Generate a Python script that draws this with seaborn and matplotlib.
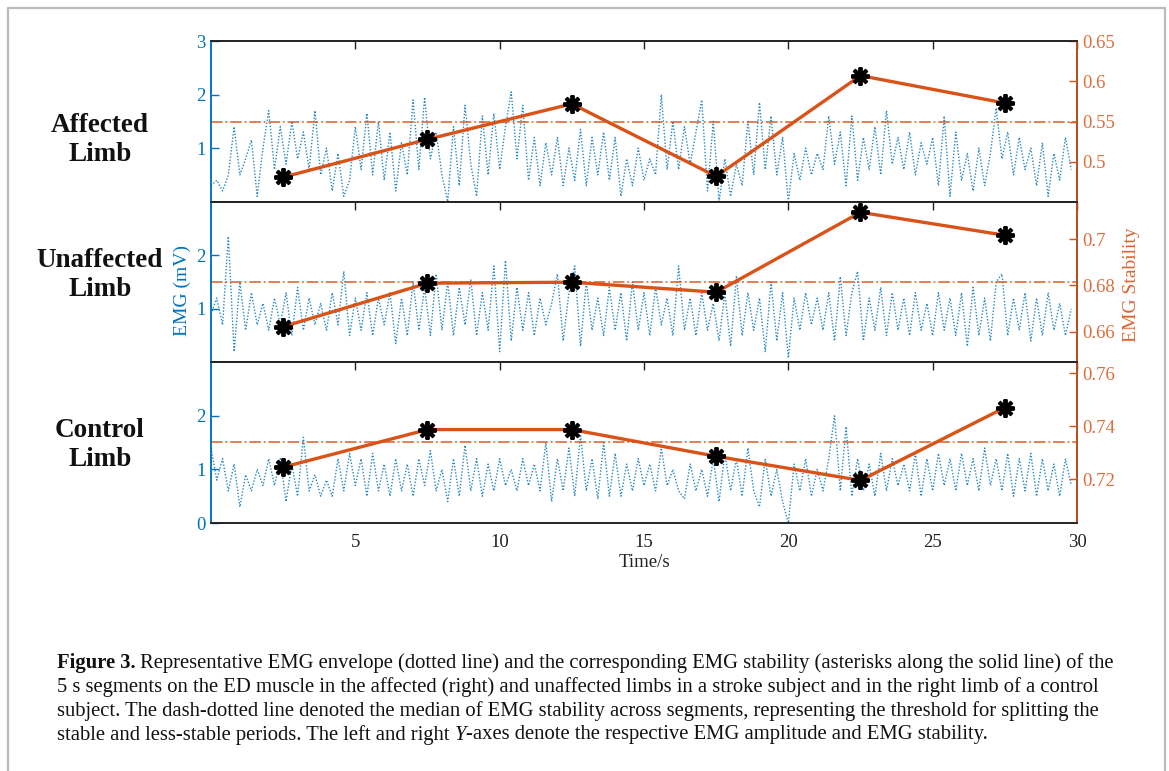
import numpy as np
import pandas as pd
import matplotlib
matplotlib.use("Agg")
import matplotlib.pyplot as plt
from matplotlib.lines import Line2D
import seaborn as sns

sns.set_theme(style="white")
plt.rcParams['font.family'] = ['Liberation Serif', 'DejaVu Serif']

BLUE = '#0072BD'
ORANGE = '#D95319'

# EMG envelope, one value every 0.2 s
emg_affected = [
    0.3, 0.4, 0.2, 0.5, 1.4, 0.5, 0.8, 1.15, 0.1, 1.0,
    1.7, 0.6, 1.4, 0.7, 1.5, 0.8, 1.3, 0.6, 1.7, 0.5,
    1.0, 0.2, 0.9, 0.1, 0.4, 1.4, 0.6, 1.65, 0.5, 1.5,
    0.4, 1.3, 0.2, 1.1, 0.5, 1.9, 0.6, 1.95, 0.8, 1.3,
    0.5, 0.0, 1.4, 0.3, 1.8, 0.7, 0.1, 1.6, 0.5, 1.65,
    0.6, 1.4, 2.05, 0.8, 1.8, 0.4, 1.2, 0.3, 1.1, 0.5,
    1.2, 0.3, 1.0, 0.4, 1.35, 0.3, 1.2, 0.5, 1.3, 0.4,
    1.2, 0.1, 0.8, 0.3, 1.0, 0.4, 0.8, 0.5, 2.0, 0.6,
    1.5, 0.6, 1.4, 0.7, 1.3, 1.9, 0.2, 1.5, 0.0, 0.8,
    0.1, 0.7, 0.3, 1.5, 0.5, 1.85, 0.6, 1.6, 0.5, 1.2,
    0.0, 0.9, 0.4, 1.0, 0.5, 0.9, 0.6, 1.6, 0.7, 1.3,
    0.3, 1.6, 0.4, 1.2, 0.6, 1.4, 0.5, 1.7, 0.7, 1.2,
    0.6, 1.3, 0.5, 1.1, 0.7, 1.2, 0.3, 1.6, 0.1, 1.3,
    0.4, 0.9, 0.2, 1.0, 0.3, 0.9, 1.75, 0.8, 1.3, 0.5,
    1.2, 0.6, 1.0, 0.3, 1.1, 0.1, 0.9, 0.4, 1.2, 0.6,
]
emg_unaffected = [
    0.9, 1.2, 0.7, 2.35, 0.2, 1.5, 0.6, 1.3, 0.7, 1.1,
    0.6, 1.2, 0.7, 1.3, 0.5, 1.4, 0.6, 1.2, 0.7, 1.1,
    0.6, 1.3, 0.7, 1.7, 0.5, 1.2, 0.6, 1.3, 0.5, 1.2,
    0.7, 1.3, 0.35, 1.2, 0.5, 1.5, 0.6, 1.4, 0.5, 1.65,
    0.6, 1.5, 0.5, 1.4, 0.7, 1.55, 0.5, 1.3, 0.6, 1.8,
    0.2, 1.9, 0.4, 1.4, 0.6, 1.3, 0.5, 1.2, 0.7, 1.1,
    1.65, 0.4, 1.3, 1.8, 0.3, 1.5, 0.6, 1.2, 0.5, 1.4,
    0.6, 1.3, 0.4, 1.5, 0.6, 1.3, 0.5, 1.4, 0.7, 1.2,
    0.5, 1.8, 0.6, 1.2, 0.5, 1.3, 0.6, 1.1, 0.4, 1.3,
    0.3, 1.6, 0.5, 1.3, 0.6, 1.2, 0.2, 1.5, 0.4, 1.3,
    0.08, 1.2, 0.6, 1.3, 0.7, 1.2, 0.6, 1.3, 0.4, 1.6,
    0.5, 1.3, 1.7, 0.4, 1.2, 0.6, 1.4, 0.5, 1.3, 0.6,
    1.2, 0.5, 1.3, 0.6, 1.1, 0.5, 1.3, 0.6, 1.2, 0.5,
    1.3, 0.3, 1.4, 0.5, 1.2, 0.4, 1.5, 1.65, 0.5, 1.2,
    0.6, 1.3, 0.4, 1.2, 0.5, 1.3, 0.6, 1.1, 0.5, 1.0,
]
emg_control = [
    1.4, 0.8, 1.2, 0.6, 1.1, 0.3, 0.9, 0.6, 1.0, 0.7,
    1.2, 0.7, 1.2, 0.4, 1.1, 0.5, 1.6, 0.6, 0.9, 0.5,
    0.8, 0.5, 1.2, 0.6, 1.3, 0.7, 1.2, 0.5, 1.3, 0.6,
    1.1, 0.5, 1.2, 0.6, 1.1, 0.5, 1.2, 0.7, 1.35, 0.6,
    1.0, 0.4, 1.2, 0.5, 1.45, 0.6, 1.2, 0.5, 1.1, 0.6,
    1.2, 0.7, 1.0, 0.6, 1.2, 0.7, 1.1, 0.6, 1.5, 0.4,
    1.2, 0.6, 1.4, 0.5, 1.65, 0.6, 1.2, 0.45, 1.5, 0.5,
    1.3, 0.5, 1.1, 0.6, 1.2, 0.7, 1.1, 0.6, 1.4, 0.7,
    1.0, 0.6, 0.45, 1.1, 0.6, 1.0, 0.5, 1.2, 0.4, 1.3,
    0.6, 1.2, 0.5, 1.4, 0.6, 0.3, 1.2, 0.5, 1.0, 0.4,
    0.0, 1.1, 0.6, 1.2, 0.5, 1.0, 0.6, 1.2, 2.0, 0.6,
    1.8, 0.5, 1.2, 0.6, 1.1, 0.5, 1.3, 0.6, 1.2, 0.7,
    1.1, 0.6, 1.3, 0.5, 1.2, 0.6, 1.3, 0.7, 1.2, 0.6,
    1.3, 0.7, 1.2, 0.6, 1.4, 0.7, 1.2, 0.6, 1.3, 0.5,
    1.2, 0.6, 1.3, 0.5, 1.2, 0.6, 1.1, 0.5, 1.2, 0.7,
]
time_s = np.arange(len(emg_affected)) * 0.2

# EMG stability of the 5 s segments
seg_centre = [2.5, 7.5, 12.5, 17.5, 22.5, 27.5]
stab_affected = [0.481, 0.528, 0.572, 0.482, 0.607, 0.573]
stab_unaffected = [0.6622, 0.681, 0.6814, 0.6771, 0.7116, 0.7017]
stab_control = [0.7246, 0.7388, 0.7388, 0.7287, 0.7196, 0.7471]
median_stab = [0.55, 0.6816, 0.734]

panel_names = ['Affected\nLimb', 'Unaffected\nLimb', 'Control\nLimb']
name_y_px = [140, 275, 445]
left_ticks = [[1, 2, 3], [1, 2], [0, 1, 2]]
right_ticks = [[0.5, 0.55, 0.6, 0.65], [0.66, 0.68, 0.7], [0.72, 0.74, 0.76]]
right_ticklabels = [['0.5', '0.55', '0.6', '0.65'], ['0.66', '0.68', '0.7'], ['0.72', '0.74', '0.76']]
right_lims = [(0.4506, 0.65), (0.6468, 0.7162), (0.7035, 0.7642)]
time_ticks = [5, 10, 15, 20, 25, 30]

emg_all = [emg_affected, emg_unaffected, emg_control]
stab_all = [stab_affected, stab_unaffected, stab_control]

W, H = 1169, 771
fig = plt.figure(figsize=(W / 100, H / 100), dpi=100)

left, right = 211 / W, 1077 / W
top_px, bot_px = 41, 523
ph = (bot_px - top_px) / 3

for i in range(3):
    y0 = 1 - (top_px + ph * (i + 1)) / H
    ax = fig.add_axes([left, y0, right - left, ph / H])
    df = pd.DataFrame({'t': time_s, 'emg': emg_all[i]})
    sns.lineplot(data=df, x='t', y='emg', ax=ax, color=BLUE, linestyle=(0, (1, 1.3)),
                 linewidth=1.0, alpha=0.85)
    ax.set_xlim(0, 30)
    ax.set_ylim(0, 3)
    ax.set_yticks(left_ticks[i])
    ax.set_xticks(time_ticks)
    ax.set_xlabel('')
    ax.set_ylabel('')
    ax.tick_params(axis='x', direction='in', top=True, length=6, width=1,
                   colors='#222222', labelsize=13.5, pad=8)
    ax.tick_params(axis='y', direction='in', length=6, width=1, colors=BLUE,
                   labelsize=13.5, pad=4)
    if i < 2:
        ax.set_xticklabels([])
    for s in ['top', 'bottom']:
        ax.spines[s].set_color('#222222')
        ax.spines[s].set_linewidth(1.1)
    ax.spines['left'].set_color(BLUE)
    ax.spines['left'].set_linewidth(1.1)

    ax2 = ax.twinx()
    ax2.axhline(median_stab[i], color=ORANGE, alpha=0.8, linestyle='-.', linewidth=1.3)
    sdf = pd.DataFrame({'t': seg_centre, 's': stab_all[i]})
    sns.lineplot(data=sdf, x='t', y='s', ax=ax2, color=ORANGE, linewidth=2.4,
                 marker=(8, 2, 0), markersize=13, markeredgecolor='black',
                 markeredgewidth=2.8, markerfacecolor='black')
    ax2.set_ylim(*right_lims[i])
    ax2.set_yticks(right_ticks[i])
    ax2.set_yticklabels(right_ticklabels[i])
    ax2.set_xlabel('')
    ax2.set_ylabel('')
    ax2.tick_params(axis='y', direction='in', length=6, width=1, colors=ORANGE,
                    labelsize=13.5, pad=4)
    for lab in ax2.get_yticklabels():
        lab.set_alpha(0.85)
    ax2.spines['right'].set_color(ORANGE)
    ax2.spines['right'].set_linewidth(1.1)
    ax2.spines['left'].set_color(BLUE)
    ax2.spines['left'].set_linewidth(1.1)
    ax2.spines['top'].set_color('#222222')
    ax2.spines['bottom'].set_color('#222222')

    fig.text(100 / W, 1 - name_y_px[i] / H, panel_names[i], ha='center', va='center',
             fontsize=19.5, fontweight='bold', linespacing=1.2, color='#111111')
    if i == 2:
        ax.set_xlabel('Time/s', fontsize=13.5, color='#222222', labelpad=2)

fig.text(182 / W, 1 - 290 / H, 'EMG (mV)', rotation=90, ha='center', va='center',
         fontsize=14, color=BLUE)
fig.text(1131 / W, 1 - 285 / H, 'EMG Stability', rotation=90, ha='center', va='center',
         fontsize=14, color=ORANGE, alpha=0.9)

# figure frame
frame = dict(color='#BBBBBB', linewidth=1.6, transform=fig.transFigure)
fig.add_artist(Line2D([8 / W, 8 / W], [0, 1 - 8 / H], **frame))
fig.add_artist(Line2D([8 / W, 1165 / W], [1 - 8 / H, 1 - 8 / H], **frame))
fig.add_artist(Line2D([1165 / W, 1165 / W], [0, 1 - 8 / H], **frame))

# caption
cap_fs = 14.9
x0 = 57 / W
lines_y = [663, 687, 711, 735]
fig.canvas.draw()
r = fig.canvas.get_renderer()
t1 = fig.text(x0, 1 - lines_y[0] / H, 'Figure 3.', fontsize=cap_fs, fontweight='bold',
              va='center', color='#111111')
bb = t1.get_window_extent(renderer=r)
fig.text(bb.x1 / W + 4 / W, 1 - lines_y[0] / H,
         'Representative EMG envelope (dotted line) and the corresponding EMG stability '
         '(asterisks along the solid line) of the',
         fontsize=cap_fs, va='center', color='#111111')
fig.text(x0, 1 - lines_y[1] / H,
         '5 s segments on the ED muscle in the affected (right) and unaffected limbs in a '
         'stroke subject and in the right limb of a control',
         fontsize=cap_fs, va='center', color='#111111')
fig.text(x0, 1 - lines_y[2] / H,
         'subject. The dash-dotted line denoted the median of EMG stability across segments, '
         'representing the threshold for splitting the',
         fontsize=cap_fs, va='center', color='#111111')
t4 = fig.text(x0, 1 - lines_y[3] / H, 'stable and less-stable periods. The left and right ',
              fontsize=cap_fs, va='center', color='#111111')
bb = t4.get_window_extent(renderer=r)
t5 = fig.text(bb.x1 / W, 1 - lines_y[3] / H, 'Y', fontsize=cap_fs, style='italic',
              va='center', color='#111111')
bb = t5.get_window_extent(renderer=r)
fig.text(bb.x1 / W, 1 - lines_y[3] / H,
         '-axes denote the respective EMG amplitude and EMG stability.',
         fontsize=cap_fs, va='center', color='#111111')

fig.savefig('out.png', dpi=100, facecolor='white')
